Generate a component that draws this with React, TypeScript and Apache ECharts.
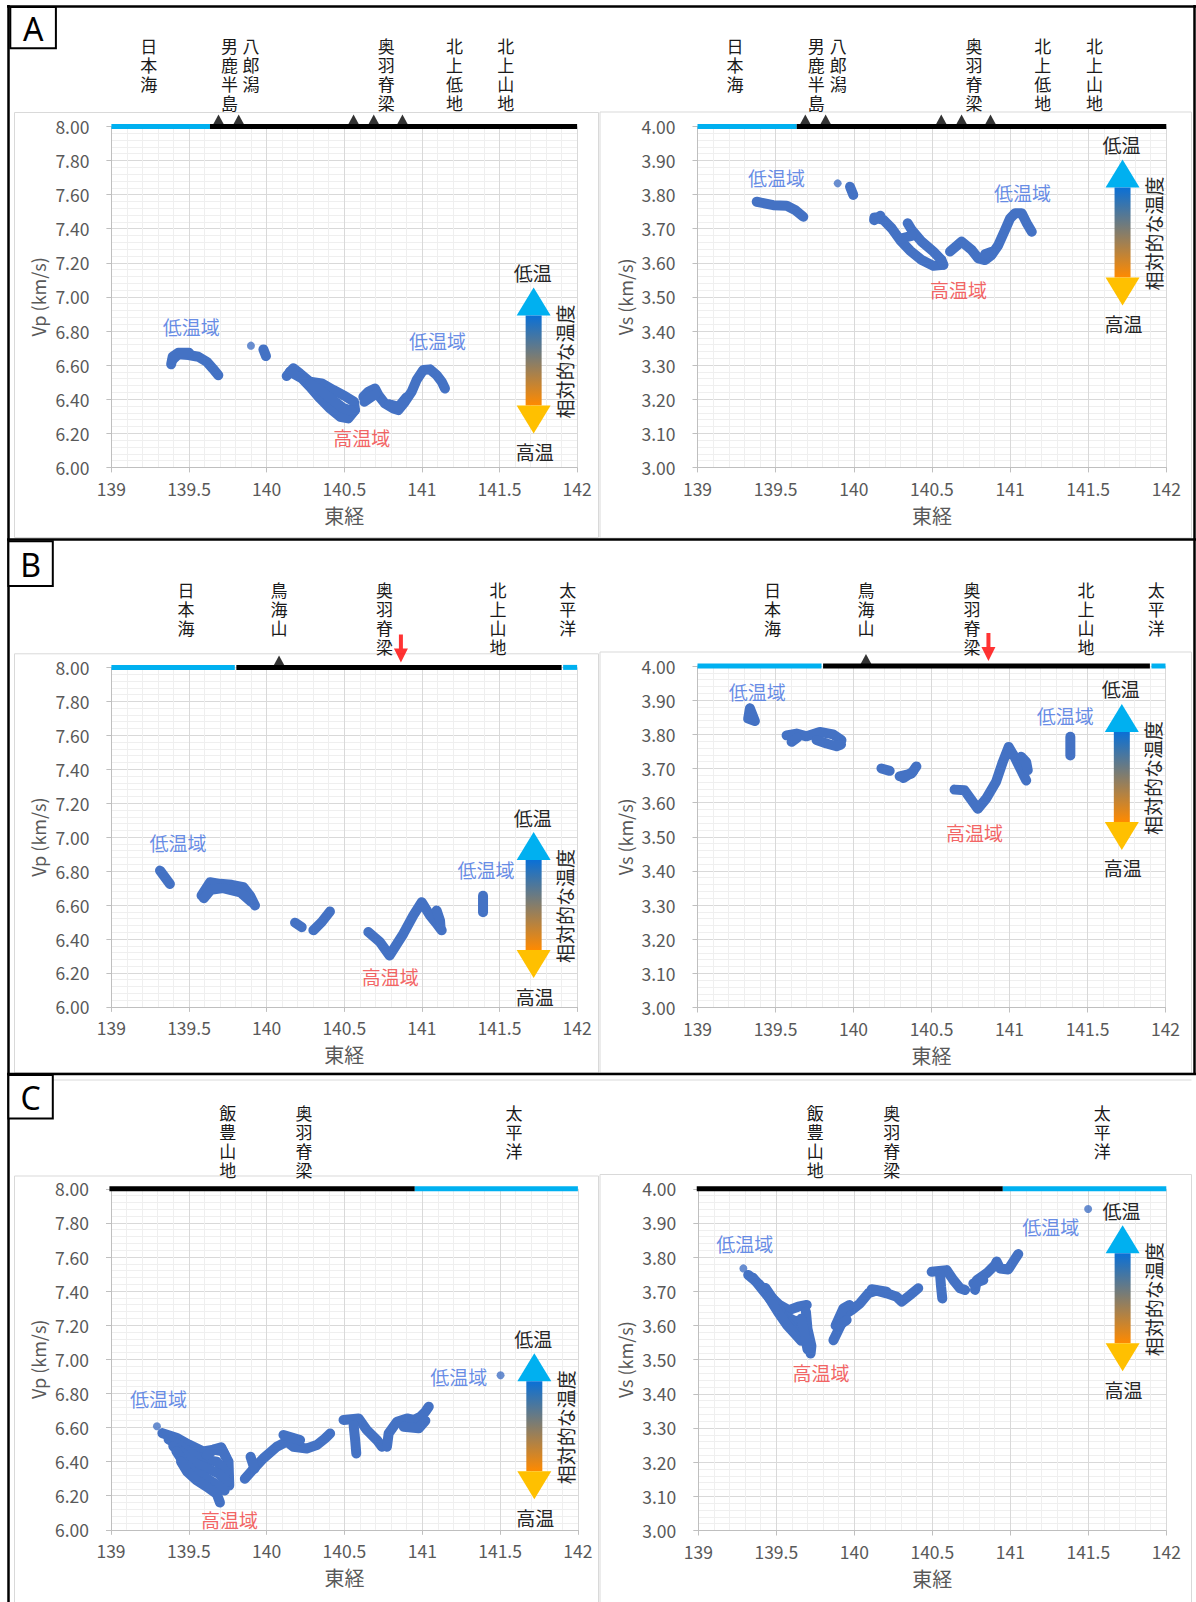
import React, { useEffect, useRef } from "react";
import * as echarts from "echarts";

// ---------------- axes ----------------
const lonMin = 139;
const lonMax = 142;
const lonStep = 0.5;
const vpMin = 6;
const vpMax = 8;
const vpStep = 0.2;
const vsMin = 3;
const vsMax = 4;
const vsStep = 0.1;

// ---------------- texts ----------------
const noteTexts = ["低温域", "低温域", "高温域"];
const tempTexts = ["低温", "高温", "相対的な温度"];
const panelLetters = ["A", "B", "C"];

// ---------------- profile A ----------------
const aPlaces = ["日本海", "男鹿半島", "八郎潟", "奥羽脊梁", "北上低地", "北上山地"];
const aPlaceLon = [139.24, 139.76, 139.9, 140.77, 141.21, 141.54];
const aVolcanoLon = [139.69, 139.82, 140.56, 140.69, 140.875];
const aCoast: [number, number, string][] = [
  [139, 139.635, "sea"],
  [139.635, 142, "land"],
];

const aVpStrokes = [
  [[139.395, 6.633], [139.431, 6.663], [139.496, 6.659], [139.56, 6.649], [139.614, 6.62], [139.652, 6.581], [139.689, 6.541]],
  [[139.385, 6.605], [139.395, 6.65], [139.43, 6.672], [139.5, 6.672]],
  [[139.979, 6.692], [139.996, 6.653]],
  [[140.129, 6.536], [140.172, 6.581], [140.215, 6.551], [140.279, 6.502], [140.355, 6.493], [140.43, 6.454], [140.505, 6.418], [140.563, 6.385], [140.569, 6.336]],
  [[140.15, 6.561], [140.23, 6.52], [140.279, 6.473], [140.344, 6.405], [140.408, 6.346], [140.473, 6.297], [140.526, 6.287], [140.569, 6.336]],
  [[140.28, 6.49], [140.35, 6.45], [140.42, 6.4], [140.49, 6.35], [140.55, 6.33]],
  [[140.623, 6.414], [140.655, 6.444], [140.698, 6.463], [140.72, 6.424], [140.762, 6.375], [140.816, 6.346], [140.848, 6.336], [140.891, 6.385], [140.934, 6.444], [140.966, 6.512], [141.009, 6.571], [141.052, 6.575], [141.095, 6.542], [141.128, 6.502], [141.149, 6.463]],
  [[140.63, 6.385], [140.7, 6.43]],
  [[140.79, 6.37], [140.85, 6.355], [140.9, 6.41]],
];
const aVpDots = [[139.899, 6.714]];
const aVpNotes = [[139.515, 6.827], [141.1, 6.742], [140.612, 6.176]];
const aVpTemp = [141.72, 7.055];

const aVsStrokes = [
  [[139.379, 3.779], [139.485, 3.769], [139.571, 3.767], [139.624, 3.755], [139.677, 3.735]],
  [[139.976, 3.823], [139.997, 3.799]],
  [[140.132, 3.733], [140.189, 3.726], [140.243, 3.701], [140.296, 3.667], [140.36, 3.636], [140.435, 3.608], [140.509, 3.591], [140.573, 3.594]],
  [[140.345, 3.716], [140.371, 3.696], [140.435, 3.662], [140.509, 3.633], [140.562, 3.608], [140.573, 3.594]],
  [[140.307, 3.672], [140.371, 3.679]],
  [[140.13, 3.725], [140.17, 3.738]],
  [[140.616, 3.633], [140.69, 3.662], [140.754, 3.638], [140.797, 3.613], [140.84, 3.608], [140.882, 3.623], [140.925, 3.652], [140.968, 3.696], [141.0, 3.73], [141.032, 3.745], [141.075, 3.745], [141.107, 3.716], [141.139, 3.691]],
  [[140.84, 3.625], [140.88, 3.632]],
];
const aVsDots = [[139.897, 3.833]];
const aVsNotes = [[139.506, 3.849], [141.08, 3.805], [140.67, 3.522]];
const aVsTemp = [141.72, 3.903];

// ---------------- profile B ----------------
const bPlaces = ["日本海", "鳥海山", "奥羽脊梁", "北上山地", "太平洋"];
const bPlaceLon = [139.48, 140.08, 140.76, 141.49, 141.94];
const bVolcanoLon = [140.08];
const bArrowLon = [140.865];
const bCoast: [number, number, string][] = [
  [139, 139.795, "sea"],
  [139.805, 141.9, "land"],
  [141.91, 142, "sea"],
];

const bVpStrokes = [
  [[139.313, 6.803], [139.377, 6.724]],
  [[139.581, 6.656], [139.635, 6.734], [139.7, 6.725], [139.775, 6.719], [139.85, 6.705], [139.893, 6.656], [139.925, 6.598]],
  [[139.595, 6.64], [139.64, 6.69], [139.72, 6.7], [139.83, 6.675], [139.9, 6.62]],
  [[140.183, 6.496], [140.226, 6.47]],
  [[140.301, 6.451], [140.355, 6.5], [140.408, 6.562]],
  [[140.655, 6.441], [140.73, 6.382], [140.792, 6.303], [140.881, 6.431], [140.945, 6.539], [140.999, 6.617], [141.052, 6.539], [141.095, 6.49], [141.128, 6.451]],
  [[141.095, 6.568], [141.117, 6.509], [141.12, 6.47]],
  [[141.394, 6.655], [141.394, 6.558]],
];
const bVpDots: number[][] = [];
const bVpNotes = [[139.429, 6.966], [141.413, 6.808], [140.797, 6.182]];
const bVpTemp = [141.72, 7.03];

const bVsStrokes = [
  [[139.336, 3.876], [139.325, 3.846], [139.368, 3.839], [139.336, 3.876]],
  [[139.571, 3.797], [139.635, 3.802], [139.699, 3.794], [139.784, 3.807], [139.869, 3.8], [139.923, 3.783]],
  [[139.603, 3.778], [139.64, 3.79]],
  [[139.763, 3.783], [139.827, 3.773], [139.891, 3.765], [139.92, 3.77]],
  [[140.179, 3.7], [140.232, 3.693]],
  [[140.296, 3.677], [140.371, 3.685], [140.403, 3.706]],
  [[140.32, 3.672], [140.38, 3.69]],
  [[140.648, 3.638], [140.712, 3.636], [140.765, 3.602], [140.797, 3.582], [140.851, 3.612], [140.914, 3.661], [140.957, 3.719], [140.995, 3.763], [141.032, 3.734], [141.075, 3.695], [141.107, 3.665]],
  [[141.075, 3.734], [141.107, 3.719], [141.117, 3.695]],
  [[141.39, 3.793], [141.39, 3.738]],
];
const bVsDots: number[][] = [];
const bVsNotes = [[139.383, 3.926], [141.358, 3.854], [140.775, 3.513]];
const bVsTemp = [141.72, 3.889];

// ---------------- profile C ----------------
const cPlaces = ["飯豊山地", "奥羽脊梁", "太平洋"];
const cPlaceLon = [139.75, 140.24, 141.59];
const cVolcanoLon: number[] = [];
const cCoast: [number, number, string][] = [
  [138.99, 140.952, "land"],
  [140.952, 142, "sea"],
];

const cVpStrokes = [
  [[139.33, 6.567], [139.42, 6.54], [139.5, 6.5], [139.59, 6.46], [139.66, 6.47], [139.72, 6.46], [139.755, 6.4], [139.76, 6.26]],
  [[139.37, 6.53], [139.45, 6.49], [139.53, 6.44], [139.61, 6.41], [139.68, 6.4], [139.74, 6.34]],
  [[139.4, 6.49], [139.47, 6.44], [139.54, 6.39], [139.62, 6.36], [139.69, 6.33], [139.745, 6.28]],
  [[139.42, 6.46], [139.47, 6.39], [139.53, 6.34], [139.6, 6.31], [139.67, 6.27], [139.73, 6.23]],
  [[139.45, 6.4], [139.49, 6.34], [139.55, 6.29], [139.62, 6.25], [139.68, 6.21], [139.7, 6.16]],
  [[139.615, 6.438], [139.664, 6.472], [139.708, 6.484], [139.738, 6.428]],
  [[139.86, 6.299], [139.904, 6.345], [139.979, 6.419], [140.065, 6.487], [140.129, 6.517], [140.172, 6.487], [140.258, 6.477], [140.322, 6.497], [140.376, 6.536], [140.408, 6.565]],
  [[139.897, 6.428], [139.922, 6.358]],
  [[140.108, 6.556], [140.215, 6.526]],
  [[140.494, 6.644], [140.591, 6.653], [140.644, 6.585], [140.709, 6.526], [140.741, 6.487]],
  [[140.559, 6.614], [140.569, 6.526], [140.576, 6.448]],
  [[140.773, 6.487], [140.784, 6.565], [140.838, 6.634], [140.902, 6.653], [140.945, 6.644], [140.988, 6.663], [141.02, 6.693], [141.042, 6.722]],
  [[140.881, 6.604], [140.977, 6.595], [141.02, 6.64]],
];
const cVpDots = [[139.295, 6.607], [141.503, 6.906]];
const cVpNotes = [[139.305, 6.77], [141.234, 6.899], [139.761, 6.059]];
const cVpTemp = [141.72, 7.035];

const cVsStrokes = [
  [[139.32, 3.748], [139.385, 3.723], [139.45, 3.69], [139.52, 3.66], [139.58, 3.645], [139.64, 3.655], [139.695, 3.66]],
  [[139.35, 3.74], [139.42, 3.7], [139.49, 3.66], [139.55, 3.63], [139.61, 3.615], [139.67, 3.61]],
  [[139.43, 3.71], [139.49, 3.67], [139.55, 3.62], [139.61, 3.59], [139.65, 3.575]],
  [[139.45, 3.684], [139.51, 3.64], [139.57, 3.6], [139.63, 3.57], [139.66, 3.555]],
  [[139.69, 3.64], [139.7, 3.59], [139.725, 3.54], [139.72, 3.518]],
  [[139.66, 3.62], [139.68, 3.58], [139.7, 3.53]],
  [[139.866, 3.557], [139.908, 3.596], [139.951, 3.636], [139.983, 3.645], [140.037, 3.665], [140.09, 3.694], [140.143, 3.702], [140.207, 3.694], [140.272, 3.684], [140.304, 3.67], [140.357, 3.689], [140.41, 3.709]],
  [[139.88, 3.6], [139.93, 3.65], [139.97, 3.66]],
  [[139.951, 3.616], [139.9, 3.6]],
  [[140.111, 3.706], [140.207, 3.699]],
  [[140.496, 3.757], [140.592, 3.762], [140.635, 3.733], [140.678, 3.709], [140.71, 3.704]],
  [[140.549, 3.753], [140.556, 3.714], [140.564, 3.679]],
  [[140.774, 3.704], [140.785, 3.733], [140.849, 3.753], [140.902, 3.777], [140.913, 3.787], [140.934, 3.767], [140.987, 3.764], [141.019, 3.787], [141.051, 3.809]],
  [[140.763, 3.723], [140.827, 3.733]],
];
const cVsDots = [[139.289, 3.767], [141.499, 3.941]];
const cVsNotes = [[139.298, 3.841], [141.26, 3.891], [139.786, 3.463]];
const cVsTemp = [141.72, 3.893];

// ---------------- layout / style ----------------
const W = 1196;
const H = 1602;
const FONT = '"Noto Sans CJK JP", "Noto Sans", sans-serif';
const PT = "#4472C4";
const SEA = "#00B0F0";
const GRAY = "#595959";
const NOTE_BLUE = "#3F6FE0";
const NOTE_RED = "#F03C3C";
const BAND_W = 10;

type Panel = {
  left: number; top: number; width: number; height: number;
  yMin: number; yMax: number; yStep: number; yName: string;
  strokes: number[][][]; dots: number[][];
  places: string[]; placeLon: number[]; placeTop: number;
  volcano: number[]; redArrow: number[]; coast: [number, number, string][];
  notes: number[][]; temp: number[];
};

const panels: Panel[] = [
  { left: 111.4, top: 126.4, width: 465.7, height: 341, yMin: vpMin, yMax: vpMax, yStep: vpStep, yName: "Vp (km/s)",
    strokes: aVpStrokes, dots: aVpDots, places: aPlaces, placeLon: aPlaceLon, placeTop: 36,
    volcano: aVolcanoLon, redArrow: [], coast: aCoast, notes: aVpNotes, temp: aVpTemp },
  { left: 697.5, top: 126.4, width: 468.8, height: 341, yMin: vsMin, yMax: vsMax, yStep: vsStep, yName: "Vs (km/s)",
    strokes: aVsStrokes, dots: aVsDots, places: aPlaces, placeLon: aPlaceLon, placeTop: 36,
    volcano: aVolcanoLon, redArrow: [], coast: aCoast, notes: aVsNotes, temp: aVsTemp },
  { left: 111.4, top: 667.4, width: 465.7, height: 339.5, yMin: vpMin, yMax: vpMax, yStep: vpStep, yName: "Vp (km/s)",
    strokes: bVpStrokes, dots: bVpDots, places: bPlaces, placeLon: bPlaceLon, placeTop: 580.5,
    volcano: bVolcanoLon, redArrow: bArrowLon, coast: bCoast, notes: bVpNotes, temp: bVpTemp },
  { left: 697.5, top: 666, width: 468, height: 341.5, yMin: vsMin, yMax: vsMax, yStep: vsStep, yName: "Vs (km/s)",
    strokes: bVsStrokes, dots: bVsDots, places: bPlaces, placeLon: bPlaceLon, placeTop: 580.5,
    volcano: bVolcanoLon, redArrow: bArrowLon, coast: bCoast, notes: bVsNotes, temp: bVsTemp },
  { left: 111, top: 1188.8, width: 466.9, height: 341, yMin: vpMin, yMax: vpMax, yStep: vpStep, yName: "Vp (km/s)",
    strokes: cVpStrokes, dots: cVpDots, places: cPlaces, placeLon: cPlaceLon, placeTop: 1103,
    volcano: cVolcanoLon, redArrow: [], coast: cCoast, notes: cVpNotes, temp: cVpTemp },
  { left: 698.3, top: 1188.8, width: 468, height: 341.7, yMin: vsMin, yMax: vsMax, yStep: vsStep, yName: "Vs (km/s)",
    strokes: cVsStrokes, dots: cVsDots, places: cPlaces, placeLon: cPlaceLon, placeTop: 1103,
    volcano: cVolcanoLon, redArrow: [], coast: cCoast, notes: cVsNotes, temp: cVsTemp },
];

const lonToPx = (p: Panel, lon: number) => p.left + ((lon - lonMin) / (lonMax - lonMin)) * p.width;
const vToPx = (p: Panel, v: number) => p.top + ((p.yMax - v) / (p.yMax - p.yMin)) * p.height;

function buildOption() {
  const grid: any[] = [];
  const xAxis: any[] = [];
  const yAxis: any[] = [];
  const series: any[] = [];
  const graphic: any[] = [];
  const Z = 100;

  // chart-area light frames
  const frames = [
    [14.5, 112.5, 584, 425], [600, 112, 591.5, 426],
    [14.5, 653.8, 584, 419], [600, 652, 591.5, 421],
    [14.5, 1176, 584, 430], [600, 1174.5, 591.5, 432],
  ];
  frames.forEach((f) =>
    graphic.push({ type: "rect", silent: true, z: -10, shape: { x: f[0], y: f[1], width: f[2], height: f[3] },
      style: { fill: "none", stroke: "#D9D9D9", lineWidth: 1 } })
  );
  graphic.push({ type: "line", silent: true, z: -10, shape: { x1: 14.5, y1: 1080, x2: 1191.5, y2: 1080 },
    style: { stroke: "#D9D9D9", lineWidth: 1 } });

  // black panel borders
  const blk = { stroke: "#000", lineWidth: 2.5 };
  graphic.push({ type: "line", silent: true, z: Z, shape: { x1: 7, y1: 6.5, x2: 1196, y2: 6.5 }, style: blk });
  graphic.push({ type: "line", silent: true, z: Z, shape: { x1: 8.5, y1: 5, x2: 8.5, y2: 1602 }, style: blk });
  graphic.push({ type: "line", silent: true, z: Z, shape: { x1: 1194.5, y1: 5, x2: 1194.5, y2: 1075 }, style: blk });
  graphic.push({ type: "line", silent: true, z: Z, shape: { x1: 7, y1: 539.5, x2: 1196, y2: 539.5 }, style: blk });
  graphic.push({ type: "line", silent: true, z: Z, shape: { x1: 7, y1: 1074, x2: 1196, y2: 1074 }, style: blk });

  // letter boxes
  const boxes = [[10.3, 6.9, 45.6, 41.3], [8.4, 541.2, 44.4, 44.8], [8.4, 1075.1, 44.4, 43.4]];
  boxes.forEach((b, k) => {
    graphic.push({ type: "rect", silent: true, z: Z, shape: { x: b[0], y: b[1], width: b[2], height: b[3] },
      style: { fill: "#fff", stroke: "#000", lineWidth: 2 } });
    graphic.push({ type: "text", silent: true, z: Z + 1, x: b[0] + b[2] / 2, y: b[1] + b[3] / 2 + 1,
      style: { text: panelLetters[k], align: "center", verticalAlign: "middle", fontSize: 32, fill: "#000", fontFamily: '"Noto Sans", sans-serif' } });
  });

  panels.forEach((p, i) => {
    grid.push({ left: p.left, top: p.top, width: p.width, height: p.height });
    xAxis.push({
      type: "value", gridIndex: i, min: lonMin, max: lonMax, interval: lonStep,
      name: "東経", nameLocation: "middle", nameGap: 38,
      nameTextStyle: { fontSize: 20, color: GRAY, fontFamily: FONT },
      axisLine: { show: true, onZero: false, lineStyle: { color: "#BFBFBF", width: 1 } },
      axisTick: { show: true, inside: false, length: 5, lineStyle: { color: "#BFBFBF" } },
      axisLabel: { margin: 12, fontSize: 17.5, color: GRAY, fontFamily: FONT },
      splitLine: { show: true, lineStyle: { color: "#D9D9D9", width: 1 } },
      minorTick: { show: false, splitNumber: 5 },
      minorSplitLine: { show: true, lineStyle: { color: "#EFEFEF", width: 1 } },
    });
    yAxis.push({
      type: "value", gridIndex: i, min: p.yMin, max: p.yMax, interval: p.yStep,
      name: p.yName, nameLocation: "middle", nameGap: 64, nameRotate: 90,
      nameTextStyle: { fontSize: 18, color: GRAY, fontFamily: FONT },
      axisLine: { show: true, onZero: false, lineStyle: { color: "#BFBFBF", width: 1 } },
      axisTick: { show: true, inside: false, length: 5, lineStyle: { color: "#BFBFBF" } },
      axisLabel: { margin: 22, fontSize: 17.5, color: GRAY, fontFamily: FONT, formatter: (v: number) => v.toFixed(2) },
      splitLine: { show: true, lineStyle: { color: "#D9D9D9", width: 1 } },
      minorTick: { show: false, splitNumber: 5 },
      minorSplitLine: { show: true, lineStyle: { color: "#EFEFEF", width: 1 } },
    });

    const base = { xAxisIndex: i, yAxisIndex: i, silent: true, animation: false };

    // data strokes
    p.strokes.forEach((s) =>
      series.push({ ...base, type: "line", data: s, symbol: "none", showSymbol: false, z: 3,
        lineStyle: { color: PT, width: BAND_W, cap: "round", join: "round" } })
    );
    if (p.dots.length)
      series.push({ ...base, type: "scatter", data: p.dots, symbolSize: 8, z: 3, itemStyle: { color: PT } });

    // sea / land bar on top
    p.coast.forEach((c) =>
      series.push({ ...base, type: "line", clip: false, symbol: "none", showSymbol: false, z: 5,
        data: [[c[0], p.yMax], [c[1], p.yMax]],
        lineStyle: { color: c[2] === "sea" ? SEA : "#000", width: 5 } })
    );
    if (p.volcano.length)
      series.push({ ...base, type: "scatter", clip: false, z: 6, symbol: "triangle", symbolSize: [13, 12], symbolOffset: [0, -6],
        data: p.volcano.map((l) => [l, p.yMax]), itemStyle: { color: "#000" } });
    if (p.redArrow.length)
      series.push({ ...base, type: "scatter", clip: false, z: 6,
        symbol: "path://M5,0 L9,0 L9,14 L14,14 L7,28 L0,14 L5,14 Z", symbolKeepAspect: false,
        symbolSize: [14, 28], symbolOffset: [0, -19],
        data: p.redArrow.map((l) => [l, p.yMax]), itemStyle: { color: "#FF0000" } });

    // notes
    series.push({ ...base, type: "scatter", z: 7, symbolSize: 1, itemStyle: { color: "rgba(0,0,0,0)" },
      data: p.notes.map((n, k) => ({
        value: n, name: noteTexts[k],
        label: { color: k === 2 ? NOTE_RED : NOTE_BLUE },
      })),
      label: { show: true, position: "inside", formatter: "{b}", fontSize: 19, fontFamily: FONT } });

    // place names (vertical, one character per line)
    p.places.forEach((name, k) =>
      name.split("").forEach((ch, j) =>
        graphic.push({ type: "text", silent: true, z: Z, x: lonToPx(p, p.placeLon[k]), y: p.placeTop + j * 19 + 9,
          style: { text: ch, align: "center", verticalAlign: "middle", fontSize: 17, fill: "#1a1a1a", fontFamily: FONT } })
      )
    );

    // relative temperature arrow
    const cx = lonToPx(p, p.temp[0]);
    const tip = vToPx(p, p.temp[1]);
    graphic.push({ type: "text", silent: true, z: Z, x: cx - 1, y: tip - 15,
      style: { text: tempTexts[0], align: "center", verticalAlign: "middle", fontSize: 19, fill: "#262626", fontFamily: FONT } });
    graphic.push({ type: "polygon", silent: true, z: Z, shape: { points: [[cx, tip], [cx + 17, tip + 28], [cx - 17, tip + 28]] },
      style: { fill: "#00B0F0" } });
    graphic.push({ type: "rect", silent: true, z: Z, shape: { x: cx - 8, y: tip + 28, width: 16, height: 90 },
      style: { fill: new echarts.graphic.LinearGradient(0, 0, 0, 1, [
        { offset: 0, color: "#0A70D6" }, { offset: 1, color: "#FF8A00" }]) } });
    graphic.push({ type: "polygon", silent: true, z: Z, shape: { points: [[cx - 17, tip + 118], [cx + 17, tip + 118], [cx, tip + 146]] },
      style: { fill: "#FFC000" } });
    graphic.push({ type: "text", silent: true, z: Z, x: cx + 1, y: tip + 164,
      style: { text: tempTexts[1], align: "center", verticalAlign: "middle", fontSize: 19, fill: "#262626", fontFamily: FONT } });
    graphic.push({ type: "text", silent: true, z: Z, x: cx + 31, y: tip + 74, rotation: Math.PI / 2,
      style: { text: tempTexts[2], align: "center", verticalAlign: "middle", fontSize: 19, fill: "#262626", fontFamily: FONT } });
  });

  return {
    animation: false,
    backgroundColor: "#fff",
    textStyle: { fontFamily: FONT },
    grid, xAxis, yAxis, series, graphic,
  };
}

export default function App() {
  const ref = useRef<HTMLDivElement>(null);
  useEffect(() => {
    document.body.style.margin = "0";
    if (!ref.current) return;
    const chart = echarts.init(ref.current, null, { renderer: "svg", width: W, height: H });
    chart.setOption(buildOption() as any);
    return () => chart.dispose();
  }, []);
  return <div ref={ref} style={{ width: W, height: H, background: "#fff" }} />;
}
